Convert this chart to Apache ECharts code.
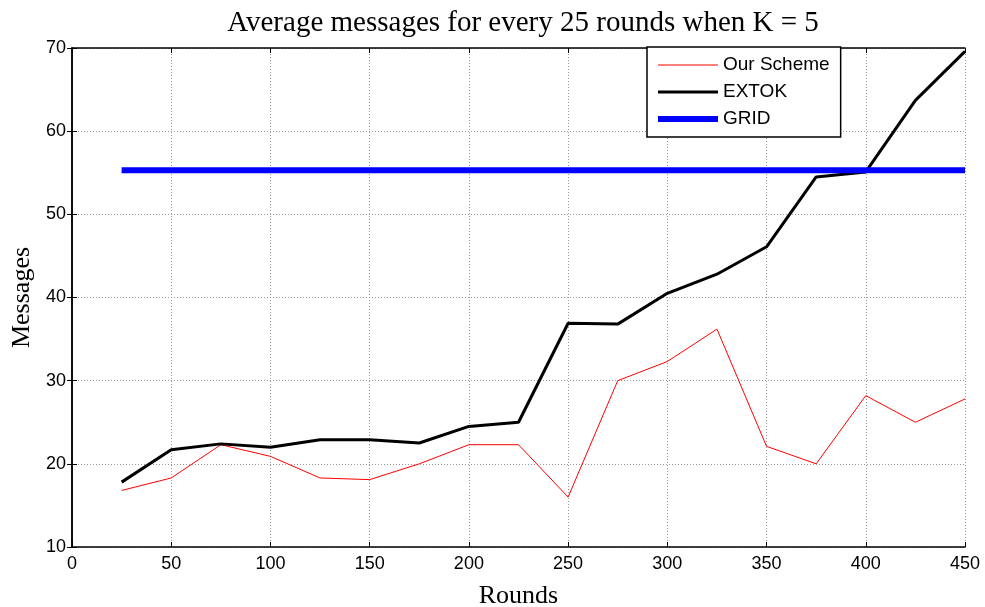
<!DOCTYPE html>
<html>
<head>
<meta charset="utf-8">
<script src="https://cdn.jsdelivr.net/npm/echarts@6/dist/echarts.min.js"></script>
<style>
  html, body { margin: 0; padding: 0; background: #fff; }
  #chart { width: 985px; height: 607px; }
</style>
</head>
<body>
<div id="chart"></div>
<script>
// 数据
const rounds = [25, 50, 75, 100, 125, 150, 175, 200, 225, 250, 275, 300, 325, 350, 375, 400, 425, 450]
const ourScheme = [16.8, 18.3, 22.3, 20.9, 18.3, 18.1, 20.0, 22.3, 22.3, 16.0, 30.0, 32.3, 36.2, 22.1, 20.0, 28.2, 25.0, 27.8]
const extok = [17.8, 21.7, 22.4, 22.0, 22.9, 22.9, 22.5, 24.5, 25.0, 36.9, 36.8, 40.5, 42.8, 46.1, 54.5, 55.1, 63.7, 69.6]
const gridValues = [55.3, 55.3, 55.3, 55.3, 55.3, 55.3, 55.3, 55.3, 55.3, 55.3, 55.3, 55.3, 55.3, 55.3, 55.3, 55.3, 55.3, 55.3]

const pairs = (ys) => rounds.map((x, i) => [x, ys[i]])

// 图例线条图标：用空的 moveTo 撑开边界，中间画一条指定粗细的横条
const lineIcon = (w) => {
  const y0 = 10 - w / 2
  return 'path://M0,0M60,20M0,' + y0 + 'h60v' + w + 'h-60z'
}

const chart = echarts.init(document.getElementById('chart'))
const tickFont = { color: '#000', fontSize: 18, fontFamily: 'Liberation Sans, Arial' }
const nameFont = { color: '#000', fontSize: 26, fontFamily: 'Liberation Serif, Times New Roman' }
const split = { show: true, lineStyle: { color: '#999', type: [1, 2], width: 1 } }
const axisLine = { show: true, lineStyle: { color: '#000', width: 1.5 } }
const tick = { show: true, inside: true, length: 5, lineStyle: { color: '#000' } }

const option = {
  backgroundColor: '#fff',
  animation: false,
  title: {
    text: 'Average messages for every 25 rounds when K = 5',
    left: 518,
    textAlign: 'center',
    top: 4,
    textStyle: { color: '#000', fontSize: 29, fontWeight: 'normal', fontFamily: 'Liberation Serif, Times New Roman' }
  },
  legend: {
    orient: 'vertical',
    left: 647,
    top: 47,
    padding: [8, 11, 8, 11],
    itemWidth: 60,
    itemHeight: 20,
    itemGap: 7,
    backgroundColor: '#fff',
    borderColor: '#000',
    borderWidth: 1.5,
    borderRadius: 0,
    itemStyle: { borderWidth: 0 },
    textStyle: { color: '#000', fontSize: 19, fontFamily: 'Liberation Sans, Arial' },
    data: [
      { name: 'Our Scheme', icon: lineIcon(1), itemStyle: { color: '#ff0000', borderWidth: 0 } },
      { name: 'EXTOK', icon: lineIcon(3), itemStyle: { color: '#000', borderWidth: 0 } },
      { name: 'GRID', icon: lineIcon(6), itemStyle: { color: '#0000ff', borderWidth: 0 } }
    ]
  },
  grid: { left: 72, right: 20, top: 48, bottom: 60, outerBoundsMode: 'none' },
  xAxis: [
    {
      type: 'value',
      min: 0,
      max: 450,
      interval: 50,
      name: 'Rounds',
      nameLocation: 'middle',
      nameGap: 36,
      nameTextStyle: nameFont,
      axisLine: axisLine,
      axisTick: tick,
      axisLabel: Object.assign({ margin: 8 }, tickFont),
      splitLine: split
    },
    {
      type: 'value',
      position: 'top',
      min: 0,
      max: 450,
      interval: 50,
      axisLine: axisLine,
      axisTick: tick,
      axisLabel: { show: false },
      splitLine: { show: false }
    }
  ],
  yAxis: [
    {
      type: 'value',
      min: 10,
      max: 70,
      interval: 10,
      name: 'Messages',
      nameLocation: 'middle',
      nameGap: 37,
      nameTextStyle: nameFont,
      axisLine: axisLine,
      axisTick: tick,
      axisLabel: Object.assign({ margin: 6 }, tickFont),
      splitLine: split
    },
    {
      type: 'value',
      position: 'right',
      min: 10,
      max: 70,
      interval: 10,
      axisLine: axisLine,
      axisTick: tick,
      axisLabel: { show: false },
      splitLine: { show: false }
    }
  ],
  series: [
    {
      name: 'Our Scheme',
      type: 'line',
      data: pairs(ourScheme),
      symbol: 'none',
      lineStyle: { color: '#ff0000', width: 1 },
      itemStyle: { color: '#ff0000' }
    },
    {
      name: 'EXTOK',
      type: 'line',
      data: pairs(extok),
      symbol: 'none',
      lineStyle: { color: '#000', width: 3 },
      itemStyle: { color: '#000' }
    },
    {
      name: 'GRID',
      type: 'line',
      data: pairs(gridValues),
      symbol: 'none',
      lineStyle: { color: '#0000ff', width: 6 },
      itemStyle: { color: '#0000ff' }
    }
  ]
}
chart.setOption(option)
</script>
</body>
</html>
